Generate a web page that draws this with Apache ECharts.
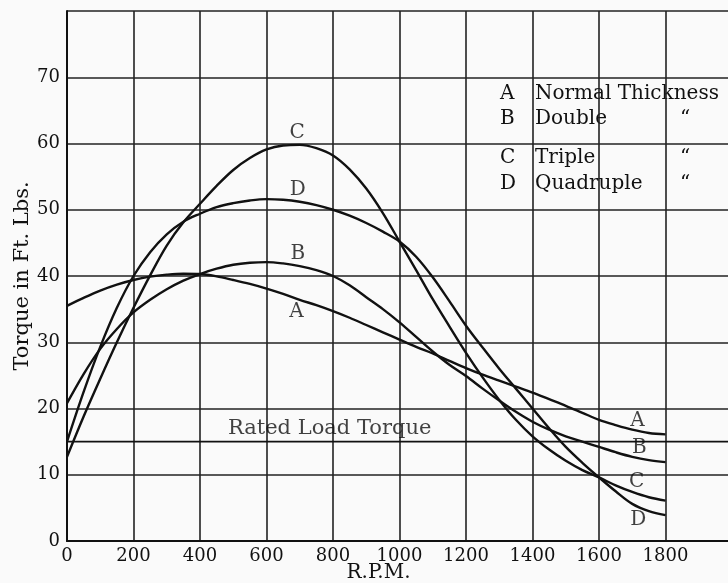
<!DOCTYPE html>
<html><head><meta charset="utf-8">
<script src="https://cdn.jsdelivr.net/npm/echarts@6/dist/echarts.min.js"></script>
<style>html,body{margin:0;padding:0;background:#fafafa}#c{width:728px;height:583px}</style>
</head><body><div id="c"></div>
<script>
// ---- data (every 50 R.P.M.) ----
const rpm = [0,50,100,150,200,250,300,350,400,450,500,550,600,650,700,750,800,850,900,950,
             1000,1050,1100,1150,1200,1250,1300,1350,1400,1450,1500,1550,1600,1650,1700,1750,1800];
const curveA = [35.5,36.7,37.8,38.7,39.4,39.9,40.2,40.35,40.3,39.95,39.4,38.8,38.1,37.3,36.4,35.6,34.7,33.7,32.6,31.5,
                30.4,29.3,28.3,27.2,26.1,25.1,24.2,23.3,22.4,21.4,20.4,19.35,18.3,17.5,16.8,16.3,16.1];
const curveB = [20.8,25.2,29.0,32.0,34.5,36.4,38.0,39.3,40.3,41.1,41.7,42.0,42.1,41.9,41.5,40.9,40.0,38.6,36.8,35.0,
                33.0,30.8,28.6,26.6,24.9,23.0,21.2,19.5,18.0,16.8,15.8,15.0,14.2,13.4,12.7,12.2,11.9];
const curveC = [12.7,18.8,24.5,30.0,35.2,40.1,44.6,48.1,50.9,53.6,56.0,57.8,59.1,59.7,59.8,59.3,58.2,56.1,53.2,49.5,
                45.2,40.9,36.5,32.4,28.4,24.7,21.3,18.3,15.8,13.8,12.1,10.7,9.6,8.4,7.4,6.6,6.1];
const curveD = [15.0,22.5,29.3,35.2,40.0,43.6,46.3,48.2,49.4,50.4,51.0,51.4,51.6,51.5,51.2,50.7,50.0,49.1,48.0,46.7,
                45.2,42.9,39.8,36.2,32.5,29.2,26.0,23.0,20.0,17.0,14.2,11.8,9.6,7.5,5.6,4.5,3.9];
const ratedTorque = 15;
const ratedSpan = [-90, 2000];
const xTicks = [0,200,400,600,800,1000,1200,1400,1600,1800];
const yTicks = [0,10,20,30,40,50,60,70];
const curveNames = ['A','B','C','D'];
const legendText = ['Normal Thickness','Double','Triple','Quadruple'];
// annotation anchors (data coords)
const curveLabels = [
  [692,61.6,'C'],[694,53.0,'D'],[694,43.4,'B'],[690,34.6,'A'],
  [1716,18.2,'A'],[1721,14.1,'B'],[1713,9.0,'C'],[1718,3.2,'D']
];
const ratedLabel = [[790,16.9,'Rated Load Torque']];

// ---- chart ----
const FONT = 'DejaVu Serif';
const INK = '#111';
const chart = echarts.init(document.getElementById('c'), null, {renderer:'canvas'});
const toPairs = ys => rpm.map((x,i)=>[x, ys[i]]);
const curveSeries = [curveA,curveB,curveC,curveD].map((ys,i)=>({
  type:'line', name:curveNames[i], data:toPairs(ys), smooth:0.35, symbol:'none',
  lineStyle:{color:INK, width:2.4}, z:5
}));
const legendRowsY = [96,121,160,186];
const graphics = [];
legendRowsY.forEach((y,i)=>{
  graphics.push({type:'text', left:500, top:y-12, style:{text:curveNames[i], font:'20px "'+FONT+'"', fill:INK}});
  graphics.push({type:'text', left:535, top:y-12, style:{text:legendText[i], font:'20px "'+FONT+'"', fill:INK}});
  if(i>0) graphics.push({type:'text', left:680, top:y-12, style:{text:'\u201C', font:'20px "'+FONT+'"', fill:INK}});
});
chart.setOption({
  backgroundColor:'#fafafa',
  animation:false,
  grid:{left:67, top:11, bottom:42, width:665, outerBoundsMode:'none', containLabel:false},
  xAxis:{type:'value', min:0, max:2000, interval:200,
    name:'R.P.M.', nameLocation:'middle', nameGap:22, nameMoveOverlap:false,
    nameTextStyle:{fontFamily:FONT, fontSize:20, color:INK, padding:[0,42,0,0]},
    axisLine:{show:true, lineStyle:{color:INK, width:2}},
    axisTick:{show:false},
    axisLabel:{fontFamily:FONT, fontSize:18, color:INK, margin:6,
      formatter:v=> xTicks.includes(v)? String(v):''},
    splitLine:{show:true, lineStyle:{color:'#222', width:1.6}}
  },
  yAxis:{type:'value', min:0, max:80, interval:10,
    name:'Torque in Ft. Lbs.', nameLocation:'middle', nameGap:34, nameMoveOverlap:false,
    nameTextStyle:{fontFamily:FONT, fontSize:21, color:INK},
    axisLine:{show:true, lineStyle:{color:INK, width:2}},
    axisTick:{show:false},
    axisLabel:{fontFamily:FONT, fontSize:18, color:INK, margin:7,
      formatter:v=> yTicks.includes(v)? String(v):''},
    splitLine:{show:true, lineStyle:{color:'#222', width:1.6}}
  },
  graphic:graphics,
  series:[
    ...curveSeries,
    {type:'line', data:ratedSpan.map(x=>[x,ratedTorque]), symbol:'none', clip:false,
      lineStyle:{color:INK, width:1.8}, z:4},
    {type:'scatter', data:curveLabels, symbolSize:0, clip:false, z:6,
      label:{show:true, position:'inside', formatter:p=>p.data[2], fontFamily:FONT, fontSize:20, color:INK}},
    {type:'scatter', data:ratedLabel, symbolSize:0, clip:false, z:6,
      label:{show:true, position:'inside', formatter:p=>p.data[2], fontFamily:FONT, fontSize:21, color:INK}}
  ]
});
</script></body></html>
